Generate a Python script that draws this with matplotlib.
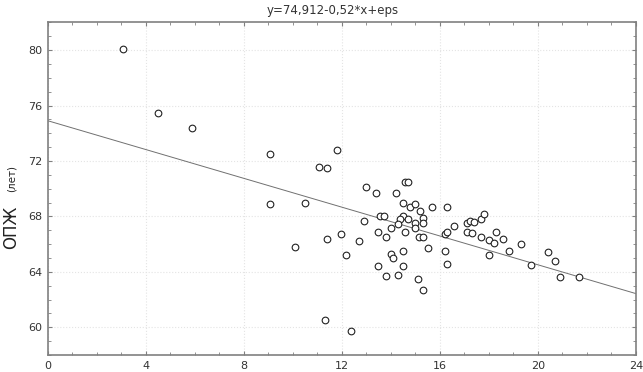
"""Scatter with regression line: ОПЖ vs x."""

import matplotlib
matplotlib.use("Agg")
import matplotlib.pyplot as plt
from matplotlib.ticker import MultipleLocator

FRAME = "#808080"
TEXT = "#333333"

# data
x_vals = [3.09, 4.50, 5.90, 9.09, 11.09, 11.39, 11.79, 14.59, 14.70, 13.0,
          13.4, 14.2, 9.09, 10.5, 14.5, 14.8, 15.0, 15.7, 16.31, 15.2,
          15.3, 12.89, 13.57, 13.71, 14.5, 14.39, 14.7, 14.29, 15.0, 15.3,
          14.0, 15.0, 13.5, 13.8, 14.59, 15.16, 15.31, 10.1, 11.39, 11.99,
          12.69, 12.18, 14.0, 14.1, 14.5, 15.52, 13.5, 13.8, 14.3, 14.5,
          15.1, 15.3, 11.3, 12.4, 16.6, 16.2, 16.31, 16.2, 16.31, 17.11,
          17.22, 17.41, 17.69, 17.8, 17.11, 17.31, 17.69, 17.99, 18.2, 18.31,
          18.6, 17.99, 18.81, 19.3, 19.71, 20.4, 20.7, 20.9, 21.7]
y_vals = [80.1, 75.5, 74.4, 72.5, 71.6, 71.5, 72.8, 70.5, 70.5, 70.1,
          69.7, 69.7, 68.9, 69.0, 69.0, 68.7, 68.9, 68.7, 68.7, 68.4,
          67.9, 67.7, 68.0, 68.0, 68.0, 67.8, 67.8, 67.45, 67.5, 67.5,
          67.2, 67.15, 66.9, 66.5, 66.85, 66.5, 66.5, 65.8, 66.4, 66.7,
          66.2, 65.2, 65.3, 65.0, 65.5, 65.7, 64.4, 63.7, 63.8, 64.4,
          63.5, 62.7, 60.5, 59.7, 67.3, 66.7, 66.9, 65.5, 64.6, 67.5,
          67.7, 67.6, 67.8, 68.2, 66.9, 66.8, 66.5, 66.3, 66.1, 66.9,
          66.4, 65.2, 65.5, 66.0, 64.5, 65.4, 64.8, 63.6, 63.6]

intercept = 74.912
slope = -0.52
fit_x = [0, 24]
fit_y = [intercept + slope * v for v in fit_x]

fig = plt.figure(figsize=(6.43, 3.72), dpi=100)
fig.patch.set_facecolor("white")
ax = fig.add_axes([0.0739, 0.0457, 0.915, 0.894])

ax.plot(fit_x, fit_y, color="#707070", linewidth=0.7, zorder=2)
ax.plot(x_vals, y_vals, linestyle="none", marker="o", markersize=4.8,
        markerfacecolor="white", markeredgecolor="#222222",
        markeredgewidth=0.8, zorder=3)

ax.set_xlim(0, 24)
ax.set_ylim(58, 82)
ax.xaxis.set_major_locator(MultipleLocator(4))
ax.yaxis.set_major_locator(MultipleLocator(4))
ax.xaxis.set_minor_locator(MultipleLocator(1))
ax.yaxis.set_minor_locator(MultipleLocator(1))
ax.tick_params(which="both", direction="in", top=True, right=True,
               color=FRAME, labelcolor=TEXT, labelsize=8)
ax.tick_params(which="major", length=3, width=0.8, pad=4)
ax.tick_params(which="minor", length=2, width=0.6)
ax.grid(which="major", color="#e4e4e4", linestyle=":", linewidth=0.8)
ax.set_axisbelow(True)
for s in ax.spines.values():
    s.set_color(FRAME)
    s.set_linewidth(1.2)

fig.text(0.518, 0.99, "y=74,912-0,52*x+eps", ha="center", va="top",
         fontsize=8.5, color=TEXT)
fig.text(0.018, 0.39, "ОПЖ", rotation=90, ha="center", va="center",
         fontsize=12, color="#222222")
fig.text(0.018, 0.52, "(лет)", rotation=90, ha="center", va="center",
         fontsize=7.5, color="#222222")

fig.savefig("out.png", dpi=100)
